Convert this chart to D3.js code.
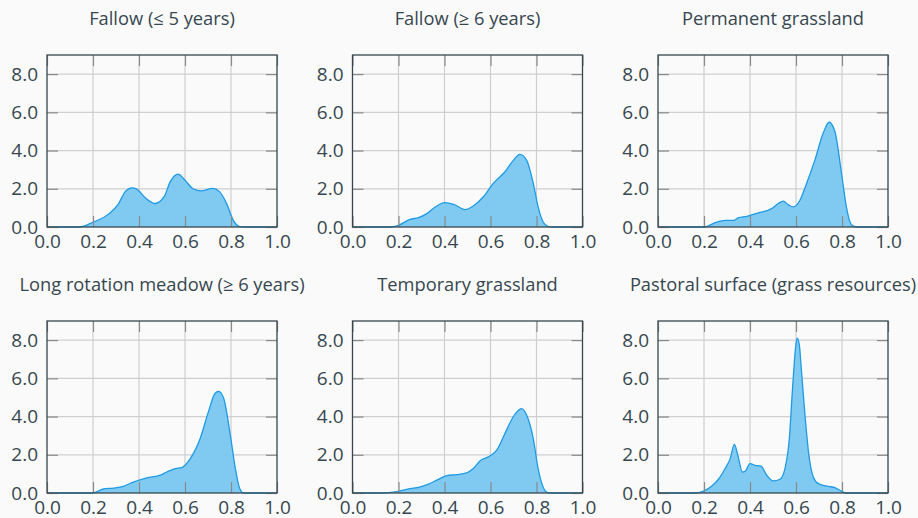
<!DOCTYPE html>
<html>
<head>
<meta charset="utf-8">
<script src="https://cdn.jsdelivr.net/npm/d3@7"></script>
<style>
  body { margin: 0; background: #fafafa; }
  svg { display: block; font-family: "Open Sans", sans-serif; }
</style>
</head>
<body>
<div id="chart"></div>
<script>
// panel titles
var titles = [
    "Fallow (\u2264 5 years)",
    "Fallow (\u2265 6 years)",
    "Permanent grassland",
    "Long rotation meadow (\u2265 6 years)",
    "Temporary grassland",
    "Pastoral surface (grass resources)"
];

// density curves, [x, density]
var fallowShort = [[0,0],[0.14,0],[0.2,0.25],[0.27,0.7],[0.31,1.2],[0.34,1.85],[0.37,2.05],[0.39,1.98],[0.43,1.5],[0.47,1.23],[0.51,1.6],[0.535,2.35],[0.57,2.77],[0.60,2.45],[0.635,2.0],[0.67,1.89],[0.72,2.02],[0.75,1.85],[0.78,1.25],[0.81,0.35],[0.84,0.02],[0.86,0],[1,0]];
var fallowLong = [[0,0],[0.164,0],[0.2,0.09],[0.25,0.4],[0.287,0.49],[0.323,0.7],[0.36,1.05],[0.40,1.28],[0.44,1.19],[0.49,0.91],[0.525,1.1],[0.569,1.58],[0.612,2.28],[0.663,2.89],[0.70,3.5],[0.728,3.8],[0.757,3.5],[0.786,2.28],[0.807,1.05],[0.829,0.26],[0.85,0.03],[0.87,0],[1,0]];
var permanentGrass = [[0,0],[0.202,0],[0.249,0.23],[0.292,0.35],[0.328,0.35],[0.35,0.49],[0.386,0.56],[0.436,0.74],[0.494,0.96],[0.523,1.23],[0.545,1.35],[0.566,1.17],[0.588,1.05],[0.617,1.4],[0.646,2.28],[0.682,3.5],[0.718,4.9],[0.744,5.48],[0.769,5.0],[0.798,2.8],[0.819,1.05],[0.841,0.12],[0.863,0],[1,0]];
var longMeadow = [[0,0],[0.199,0],[0.245,0.21],[0.289,0.26],[0.332,0.35],[0.369,0.54],[0.434,0.79],[0.492,0.93],[0.521,1.1],[0.557,1.28],[0.586,1.33],[0.623,1.8],[0.666,2.85],[0.702,4.26],[0.731,5.22],[0.746,5.32],[0.768,4.96],[0.797,3.03],[0.819,1.28],[0.837,0.26],[0.855,0],[1,0]];
var tempGrass = [[0,0],[0.12,0],[0.2,0.09],[0.25,0.23],[0.287,0.3],[0.33,0.46],[0.366,0.67],[0.41,0.91],[0.453,0.96],[0.496,1.05],[0.525,1.28],[0.554,1.68],[0.59,1.89],[0.627,2.24],[0.663,3.12],[0.699,3.99],[0.735,4.41],[0.757,4.08],[0.786,2.85],[0.807,1.28],[0.826,0.4],[0.844,0.05],[0.86,0],[1,0]];
var pastoral = [[0,0],[0.16,0],[0.198,0.1],[0.234,0.37],[0.263,0.72],[0.292,1.28],[0.314,1.8],[0.332,2.54],[0.347,1.98],[0.367,1.1],[0.379,1.14],[0.40,1.54],[0.422,1.45],[0.448,1.4],[0.473,0.93],[0.501,0.63],[0.53,0.72],[0.552,1.28],[0.571,2.85],[0.585,5.48],[0.598,7.58],[0.605,8.1],[0.614,7.79],[0.624,6.36],[0.639,4.08],[0.656,1.98],[0.675,0.84],[0.697,0.49],[0.74,0.35],[0.769,0.28],[0.798,0.09],[0.819,0],[1,0]];

var series = [fallowShort, fallowLong, permanentGrass, longMeadow, tempGrass, pastoral];

var xTicks = [0, 0.2, 0.4, 0.6, 0.8, 1.0];
var yTicks = [0, 2, 4, 6, 8];

var W = 918, H = 518;
var svg = d3.select("#chart").append("svg")
    .attr("width", W)
    .attr("height", H);

// panel boxes (left, top) - all the same size
var colX = [47, 352.5, 658];
var rowY = [55, 321];
var pw = 230, ph = 172;
var tickLen = 11;
var textColor = "#37474f";

series.forEach(function (data, i) {
    var left = colX[i % 3];
    var top = rowY[Math.floor(i / 3)];

    var x = d3.scaleLinear().domain([0, 1]).range([0, pw]);
    var y = d3.scaleLinear().domain([0, 9]).range([ph, 0]);

    var g = svg.append("g")
        .attr("transform", "translate(" + left + "," + top + ")");

    // grid
    g.selectAll(".vgrid")
        .data(xTicks.slice(1, -1))
        .enter().append("line")
        .attr("x1", function (d) { return x(d); })
        .attr("x2", function (d) { return x(d); })
        .attr("y1", 0).attr("y2", ph)
        .attr("stroke", "#cfcfcf").attr("stroke-width", 1.2);

    g.selectAll(".hgrid")
        .data(yTicks.slice(1))
        .enter().append("line")
        .attr("y1", function (d) { return y(d); })
        .attr("y2", function (d) { return y(d); })
        .attr("x1", 0).attr("x2", pw)
        .attr("stroke", "#cfcfcf").attr("stroke-width", 1.2);

    // area
    var area = d3.area()
        .x(function (d) { return x(d[0]); })
        .y0(y(0))
        .y1(function (d) { return y(d[1]); })
        .curve(d3.curveMonotoneX);

    var line = d3.line()
        .x(function (d) { return x(d[0]); })
        .y(function (d) { return y(d[1]); })
        .curve(d3.curveMonotoneX);

    g.append("path")
        .datum(data)
        .attr("d", area)
        .attr("fill", "#80c9f1");

    g.append("path")
        .datum(data)
        .attr("d", line)
        .attr("fill", "none")
        .attr("stroke", "#1e9be4")
        .attr("stroke-width", 1.3);

    // inward ticks on all four sides (mirrored like gnuplot)
    var xaxis = g.append("g")
        .attr("transform", "translate(0," + ph + ")")
        .call(d3.axisBottom(x).tickValues(xTicks).tickSize(-tickLen).tickFormat(d3.format(".1f")));
    g.append("g").call(d3.axisTop(x).tickValues(xTicks).tickSize(-tickLen).tickFormat(""));
    var yaxis = g.append("g")
        .call(d3.axisLeft(y).tickValues(yTicks).tickSize(-tickLen).tickFormat(d3.format(".1f")));
    g.append("g").attr("transform", "translate(" + pw + ",0)")
        .call(d3.axisRight(y).tickValues(yTicks).tickSize(-tickLen).tickFormat(""));

    g.selectAll(".domain").remove();
    g.selectAll(".tick line").attr("stroke", "#8a8a8a").attr("stroke-width", 1.2);
    g.selectAll(".tick text")
        .attr("fill", textColor)
        .style("font-size", "19px")
        .style("font-family", "'Open Sans', sans-serif");

    // push labels off the frame
    xaxis.selectAll("text").attr("y", 8);
    yaxis.selectAll("text").attr("x", -9);

    // frame
    g.append("rect")
        .attr("width", pw).attr("height", ph)
        .attr("fill", "none")
        .attr("stroke", "#37474f")
        .attr("stroke-width", 1.3);

    // title
    svg.append("text")
        .attr("x", left + pw / 2)
        .attr("y", top - 30)
        .attr("text-anchor", "middle")
        .attr("fill", textColor)
        .style("font-size", "18.3px")
        .text(titles[i]);
});
</script>
</body>
</html>
